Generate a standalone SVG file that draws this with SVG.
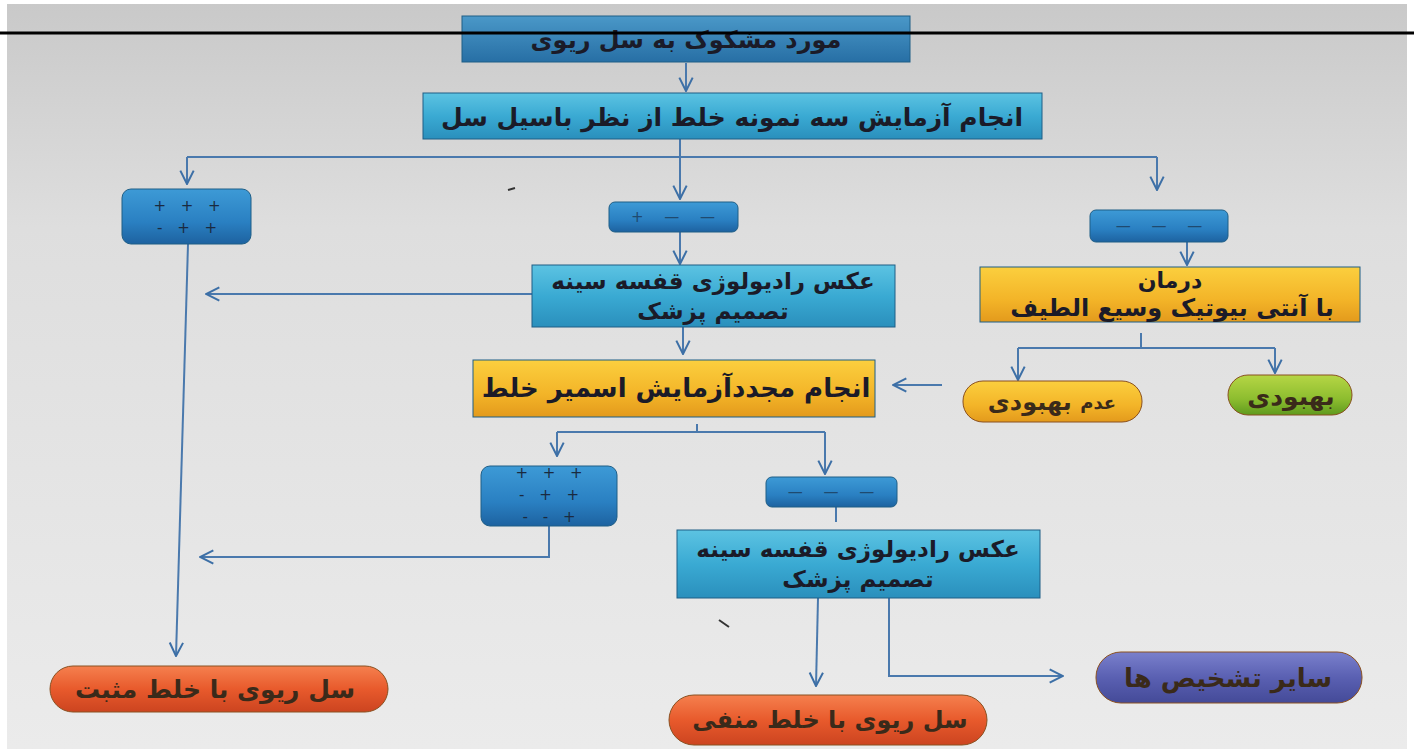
<svg xmlns="http://www.w3.org/2000/svg" width="1414" height="749" viewBox="0 0 1414 749">
<defs>
<linearGradient id="bg" x1="0" y1="0" x2="0" y2="1">
<stop offset="0" stop-color="#c9c9c9"/>
<stop offset="0.3" stop-color="#dedede"/>
<stop offset="1" stop-color="#ebebeb"/>
</linearGradient>
<linearGradient id="gCyan" x1="0" y1="0" x2="0" y2="1">
<stop offset="0" stop-color="#5cc3e2"/>
<stop offset="0.5" stop-color="#3aaad3"/>
<stop offset="1" stop-color="#2a8fbc"/>
</linearGradient>
<linearGradient id="gSteel" x1="0" y1="0" x2="0" y2="1">
<stop offset="0" stop-color="#4a98c8"/>
<stop offset="1" stop-color="#276fa5"/>
</linearGradient>
<linearGradient id="gBlue" x1="0" y1="0" x2="0" y2="1">
<stop offset="0" stop-color="#3d9ad6"/>
<stop offset="0.6" stop-color="#2a80c2"/>
<stop offset="1" stop-color="#1d62a0"/>
</linearGradient>
<linearGradient id="gYellow" x1="0" y1="0" x2="0" y2="1">
<stop offset="0" stop-color="#fbcf3e"/>
<stop offset="0.6" stop-color="#f3b428"/>
<stop offset="1" stop-color="#e39a1c"/>
</linearGradient>
<linearGradient id="gOrange" x1="0" y1="0" x2="0" y2="1">
<stop offset="0" stop-color="#f5804e"/>
<stop offset="0.5" stop-color="#e85a2c"/>
<stop offset="1" stop-color="#cc4420"/>
</linearGradient>
<linearGradient id="gGreen" x1="0" y1="0" x2="0" y2="1">
<stop offset="0" stop-color="#b6d645"/>
<stop offset="0.6" stop-color="#8dbd2f"/>
<stop offset="1" stop-color="#5f9a1e"/>
</linearGradient>
<linearGradient id="gPurple" x1="0" y1="0" x2="0" y2="1">
<stop offset="0" stop-color="#7a80cc"/>
<stop offset="0.5" stop-color="#5a60b2"/>
<stop offset="1" stop-color="#444a98"/>
</linearGradient>
<marker id="arr" viewBox="0 0 12 12" refX="11" refY="6" markerWidth="16" markerHeight="16" orient="auto" markerUnits="userSpaceOnUse">
<path d="M1,1 L11,6 L1,11" fill="none" stroke="#3c6fa6" stroke-width="1.5"/>
</marker>
</defs>
<style>
.conn{fill:none;stroke:#4a79ad;stroke-width:2}
.box{stroke:#1f5e86;stroke-width:1}
.t{font-family:"DejaVu Sans",sans-serif;font-weight:bold;fill:#1b1b28;text-anchor:middle;dominant-baseline:central}
.pm{font-family:"DejaVu Sans",sans-serif;fill:#1a2a40;text-anchor:middle;dominant-baseline:central;font-size:15px;word-spacing:10px}
.dash{font-family:"DejaVu Sans",sans-serif;fill:#1f4a70;text-anchor:middle;dominant-baseline:central;font-size:15px;word-spacing:16px}
.pill{stroke:#8a5020;stroke-width:1}
.pt{font-family:"DejaVu Sans",sans-serif;font-weight:bold;fill:#3a2a1a;text-anchor:middle;dominant-baseline:central}
.mark{stroke:#333;stroke-width:2;fill:none}
</style>
<rect x="0" y="0" width="1414" height="749" fill="#ffffff"/>
<rect x="7" y="4" width="1400" height="745" fill="url(#bg)"/>
<path class="mark" d="M508,190 L515,188 M719,620 L729,627"/>

<g id="connectors">
<path class="conn" d="M686,63 V91" marker-end="url(#arr)"/>
<path class="conn" d="M680,139 V157 M187,157 H1157"/>
<path class="conn" d="M187,157 V184" marker-end="url(#arr)"/>
<path class="conn" d="M680,157 V199" marker-end="url(#arr)"/>
<path class="conn" d="M1157,157 V190" marker-end="url(#arr)"/>
<path class="conn" d="M680,232 V264" marker-end="url(#arr)"/>
<path class="conn" d="M1187,242 V265" marker-end="url(#arr)"/>
<path class="conn" d="M532,294 H206" marker-end="url(#arr)"/>
<path class="conn" d="M683,327 V354" marker-end="url(#arr)"/>
<path class="conn" d="M1141,333 V348 M1018,348 H1275"/>
<path class="conn" d="M1018,348 V380" marker-end="url(#arr)"/>
<path class="conn" d="M1275,348 V373" marker-end="url(#arr)"/>
<path class="conn" d="M942,385 H893" marker-end="url(#arr)"/>
<path class="conn" d="M697,424 V432 M557,432 H825"/>
<path class="conn" d="M557,432 V456" marker-end="url(#arr)"/>
<path class="conn" d="M825,432 V474" marker-end="url(#arr)"/>
<path class="conn" d="M549,526 V557 H200" marker-end="url(#arr)"/>
<path class="conn" d="M836,507 V522"/>
<path class="conn" d="M188,244 L176,656" marker-end="url(#arr)"/>
<path class="conn" d="M818,598 L816,686" marker-end="url(#arr)"/>
<path class="conn" d="M889,598 V676 H1063" marker-end="url(#arr)"/>
</g>

<g id="n-suspect">
<rect class="box" x="462" y="16" width="448" height="46" fill="url(#gSteel)"/>
<text class="t" x="686" y="40" font-size="24" fill="#1a2a3a">مورد مشکوک به سل ریوی</text>
</g>
<g id="n-test3">
<rect class="box" x="423" y="93" width="619" height="46" fill="url(#gCyan)"/>
<text class="t" x="732" y="117" font-size="25">انجام آزمایش سه نمونه خلط از نظر باسیل سل</text>
</g>
<g id="n-ppp">
<rect class="box" x="122" y="189" width="129" height="55" rx="9" fill="url(#gBlue)"/>
<text class="pm" x="187" y="206">+ + +</text>
<text class="pm" x="187" y="228">- + +</text>
</g>
<g id="n-pmm">
<rect class="box" x="609" y="202" width="129" height="30" rx="6" fill="url(#gBlue)"/>
<text class="dash" x="673" y="217">+ — —</text>
</g>
<g id="n-mmm">
<rect class="box" x="1090" y="210" width="138" height="32" rx="6" fill="url(#gBlue)"/>
<text class="dash" x="1159" y="226">— — —</text>
</g>
<g id="n-xray1">
<rect class="box" x="532" y="265" width="363" height="62" fill="url(#gCyan)"/>
<text class="t" x="713" y="281" font-size="23">عکس رادیولوژی قفسه سینه</text>
<text class="t" x="713" y="311" font-size="23">تصمیم پزشک</text>
</g>
<g id="n-treat">
<rect class="box" x="980" y="267" width="380" height="55" fill="url(#gYellow)" stroke="#b07a18"/>
<text class="t" x="1170" y="280" font-size="22">درمان</text>
<text class="t" x="1172" y="308" font-size="24">با آنتی بیوتیک وسیع الطیف</text>
</g>
<g id="n-noimprove">
<rect class="pill" x="963" y="381" width="179" height="41" rx="20" fill="url(#gYellow)" stroke="#b07a18"/>
<text class="pt" x="1052" y="402" font-size="24"><tspan font-size="18">عدم</tspan> بهبودی</text>
</g>
<g id="n-improve">
<rect class="pill" x="1228" y="375" width="124" height="40" rx="20" fill="url(#gGreen)" stroke="#5a8a20"/>
<text class="pt" x="1291" y="396" font-size="25">بهبودی</text>
</g>
<g id="n-retest">
<rect class="box" x="473" y="360" width="402" height="57" fill="url(#gYellow)" stroke="#b07a18"/>
<text class="t" x="676" y="388" font-size="26">انجام مجددآزمایش اسمیر خلط</text>
</g>
<g id="n-ppp2">
<rect class="box" x="481" y="466" width="136" height="60" rx="9" fill="url(#gBlue)"/>
<text class="pm" x="549" y="473">+ + +</text>
<text class="pm" x="549" y="495">- + +</text>
<text class="pm" x="549" y="517">- - +</text>
</g>
<g id="n-mmm2">
<rect class="box" x="766" y="477" width="131" height="30" rx="6" fill="url(#gBlue)"/>
<text class="dash" x="831" y="492">— — —</text>
</g>
<g id="n-xray2">
<rect class="box" x="677" y="530" width="363" height="68" fill="url(#gCyan)"/>
<text class="t" x="858" y="549" font-size="23">عکس رادیولوژی قفسه سینه</text>
<text class="t" x="858" y="579" font-size="23">تصمیم پزشک</text>
</g>
<g id="n-tbpos">
<rect class="pill" x="50" y="666" width="338" height="46" rx="23" fill="url(#gOrange)"/>
<text class="pt" x="215" y="689" font-size="25">سل ریوی با خلط مثبت</text>
</g>
<g id="n-tbneg">
<rect class="pill" x="669" y="695" width="318" height="50" rx="25" fill="url(#gOrange)"/>
<text class="pt" x="830" y="720" font-size="24">سل ریوی با خلط منفی</text>
</g>
<g id="n-other">
<rect class="pill" x="1096" y="652" width="266" height="51" rx="25" fill="url(#gPurple)" stroke="#34397a"/>
<text class="pt" x="1228" y="678" font-size="26" fill="#22244a">سایر تشخیص ها</text>
</g>

<line x1="0" y1="33" x2="1414" y2="33" stroke="#000000" stroke-width="3"/>
</svg>
